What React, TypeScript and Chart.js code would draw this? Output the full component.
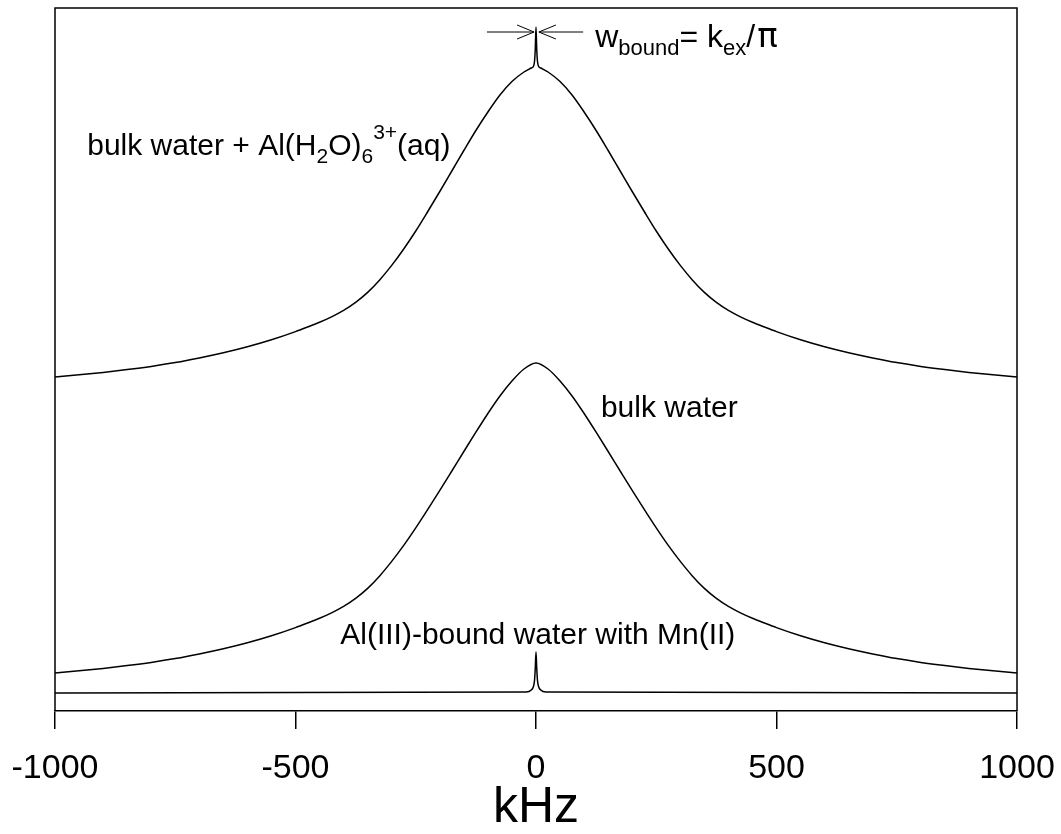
import React, { useEffect, useRef } from 'react';
import { Chart, registerables } from 'chart.js';

Chart.register(...registerables);

const FONT = "'Liberation Sans', Arial, Helvetica, sans-serif";

// x-axis ticks (kHz)
const xTicks = [-1000, -500, 0, 500, 1000];

// Upper trace: bulk water + Al(H2O)6 3+(aq)  (arbitrary intensity units)
const topX = [-1000, -950, -900, -850, -800, -750, -700, -650, -600, -550, -500, -475, -450, -425, -400, -375, -350, -325, -300, -275, -250, -225, -200, -175, -150, -125, -100, -75, -50, -25, -10, -5, -3, -1.5, 0,
  1.5, 3, 5, 10, 25, 50, 75, 100, 125, 150, 175, 200, 225, 250, 275, 300, 325, 350, 375, 400, 425, 450, 475, 500, 550, 600, 650, 700, 750, 800, 850, 900, 950, 1000];
const topY = [334, 336.2, 338.6, 341.4, 344.6, 348.4, 353, 358.2, 364.2, 371.2, 379.4, 384, 388.8, 394.2, 400.6, 408.6, 418.6, 431.1, 445.6, 462, 480, 499.5, 519.5, 540, 560.5, 580.5, 599, 616, 629.5, 639, 643, 645, 650, 662, 684,
  662, 650, 645, 643, 639, 629.5, 616, 599, 580.5, 560.5, 540, 519.5, 499.5, 480, 462, 445.6, 431.1, 418.6, 408.6, 400.6, 394.2, 388.8, 384, 379.4, 371.2, 364.2, 358.2, 353, 348.4, 344.6, 341.4, 338.6, 336.2, 334];

// Middle trace: bulk water
const midX = [-1000, -950, -900, -850, -800, -750, -700, -650, -600, -550, -500, -475, -450, -425, -400, -375, -350, -325, -300, -275, -250, -225, -200, -175, -150, -125, -100, -75, -50, -25, 0,
  25, 50, 75, 100, 125, 150, 175, 200, 225, 250, 275, 300, 325, 350, 375, 400, 425, 450, 475, 500, 550, 600, 650, 700, 750, 800, 850, 900, 950, 1000];
const midY = [38, 40.2, 42.6, 45.4, 48.6, 52.4, 57, 62.2, 68.2, 75.2, 83.4, 88, 92.8, 98.2, 104.6, 112.6, 122.6, 135.1, 149.6, 165.6, 183.1, 201.6, 220.6, 240, 259.5, 278.8, 297.5, 315, 330, 342, 348,
  342, 330, 315, 297.5, 278.8, 259.5, 240, 220.6, 201.6, 183.1, 165.6, 149.6, 135.1, 122.6, 112.6, 104.6, 98.2, 92.8, 88, 83.4, 75.2, 68.2, 62.2, 57, 52.4, 48.6, 45.4, 42.6, 40.2, 38];

// Lower trace: Al(III)-bound water with Mn(II)
const lowX = [-1000, -20, -10, -5, -3, -1.5, 0, 1.5, 3, 5, 10, 20, 1000];
const lowY = [18, 19, 21, 25, 31, 43, 59, 43, 31, 25, 21, 19, 18];

type Part = { t: string; sub?: boolean; sup?: boolean; font?: string; size?: number; gap?: number };
const annotations: { x: number; y: number; size: number; subSize: number; parts: Part[] }[] = [
  {
    x: -933, y: 556, size: 30, subSize: 21,
    parts: [
      { t: 'bulk water + Al(H' }, { t: '2', sub: true }, { t: 'O)' }, { t: '6', sub: true },
      { t: '3+', sup: true }, { t: '(aq)' },
    ],
  },
  { x: 135, y: 294, size: 30, subSize: 21, parts: [{ t: 'bulk water' }] },
  { x: -407, y: 67, size: 30, subSize: 21, parts: [{ t: 'Al(III)-bound water with Mn(II)' }] },
  {
    x: 123, y: 664, size: 32, subSize: 22,
    parts: [
      { t: 'w' }, { t: 'bound', sub: true }, { t: '= k' }, { t: 'ex', sub: true }, { t: '/' },
      { t: 'π', font: "'DejaVu Sans', sans-serif", size: 34, gap: 2 },
    ],
  },
];

const arrows = [
  { from: -102, to: -4, y: 679 },
  { from: 98, to: 6, y: 679 },
];

const framePlugin = {
  id: 'frameAndNotes',
  afterDraw(chart: any) {
    const { ctx, chartArea, scales } = chart;
    const { left, right, top, bottom } = chartArea;
    ctx.save();
    ctx.strokeStyle = '#000';
    ctx.lineWidth = 1.5;
    ctx.beginPath();
    ctx.moveTo(left, bottom);
    ctx.lineTo(left, top);
    ctx.lineTo(right, top);
    ctx.lineTo(right, bottom);
    ctx.stroke();

    ctx.fillStyle = '#000';
    ctx.textBaseline = 'alphabetic';
    ctx.textAlign = 'left';
    for (const a of annotations) {
      let cx = scales.x.getPixelForValue(a.x);
      const by = scales.y.getPixelForValue(a.y);
      for (const p of a.parts) {
        const size = p.size || (p.sub || p.sup ? a.subSize : a.size);
        ctx.font = `${size}px ${p.font || FONT}`;
        const dy = p.sub ? 8 : p.sup ? -16 : 0;
        cx += p.gap || 0;
        ctx.fillText(p.t, cx, by + dy);
        cx += ctx.measureText(p.t).width;
      }
    }

    ctx.lineWidth = 1;
    for (const ar of arrows) {
      const x1 = scales.x.getPixelForValue(ar.from);
      const x2 = scales.x.getPixelForValue(ar.to);
      const y = scales.y.getPixelForValue(ar.y);
      const dir = Math.sign(x2 - x1);
      ctx.beginPath();
      ctx.moveTo(x1, y);
      ctx.lineTo(x2, y);
      ctx.moveTo(x2 - dir * 17, y - 7);
      ctx.lineTo(x2, y);
      ctx.lineTo(x2 - dir * 17, y + 7);
      ctx.stroke();
    }
    ctx.restore();
  },
};

function toPoints(xs: number[], ys: number[]) {
  return xs.map((x, i) => ({ x, y: ys[i] }));
}

export default function App() {
  const ref = useRef<HTMLCanvasElement>(null);
  useEffect(() => {
    if (!ref.current) return;
    const line = (data: any) => ({
      data,
      borderColor: '#000',
      borderWidth: 1.5,
      pointRadius: 0,
      fill: false,
      cubicInterpolationMode: 'monotone' as const,
    });
    const chart = new Chart(ref.current, {
      type: 'line',
      data: {
        datasets: [
          line(toPoints(topX, topY)),
          line(toPoints(midX, midY)),
          line(toPoints(lowX, lowY)),
        ],
      },
      options: {
        animation: false,
        responsive: false,
        devicePixelRatio: 1,
        layout: { padding: { left: 0, right: 0, top: 8, bottom: 0 } },
        plugins: { legend: { display: false }, tooltip: { enabled: false } },
        scales: {
          x: {
            type: 'linear',
            min: -1000,
            max: 1000,
            afterBuildTicks: (s: any) => {
              s.ticks = xTicks.map((v) => ({ value: v }));
            },
            afterFit: (s: any) => {
              s.height = 123;
              s.paddingLeft = 55;
              s.paddingRight = 44;
            },
            ticks: {
              color: '#000',
              font: { family: FONT, size: 34 },
              padding: 19,
              maxRotation: 0,
              callback: (v: any) => String(v),
            },
            grid: {
              drawOnChartArea: false,
              drawTicks: true,
              tickLength: 18,
              color: '#000',
              lineWidth: 1.5,
            },
            border: { display: true, color: '#000', width: 1.5 },
            title: {
              display: true,
              text: 'kHz',
              color: '#000',
              font: { family: FONT, size: 50, lineHeight: 1.04 },
              padding: { top: 0, bottom: 0 },
            },
          },
          y: {
            type: 'linear',
            display: false,
            min: 0,
            max: 703,
          },
        },
      },
      plugins: [framePlugin],
    });
    return () => chart.destroy();
  }, []);
  return (
    <div style={{ position: 'fixed', left: 0, top: 0, width: 1061, height: 834, background: '#fff' }}>
      <canvas ref={ref} width={1061} height={834} style={{ display: 'block' }} />
    </div>
  );
}
